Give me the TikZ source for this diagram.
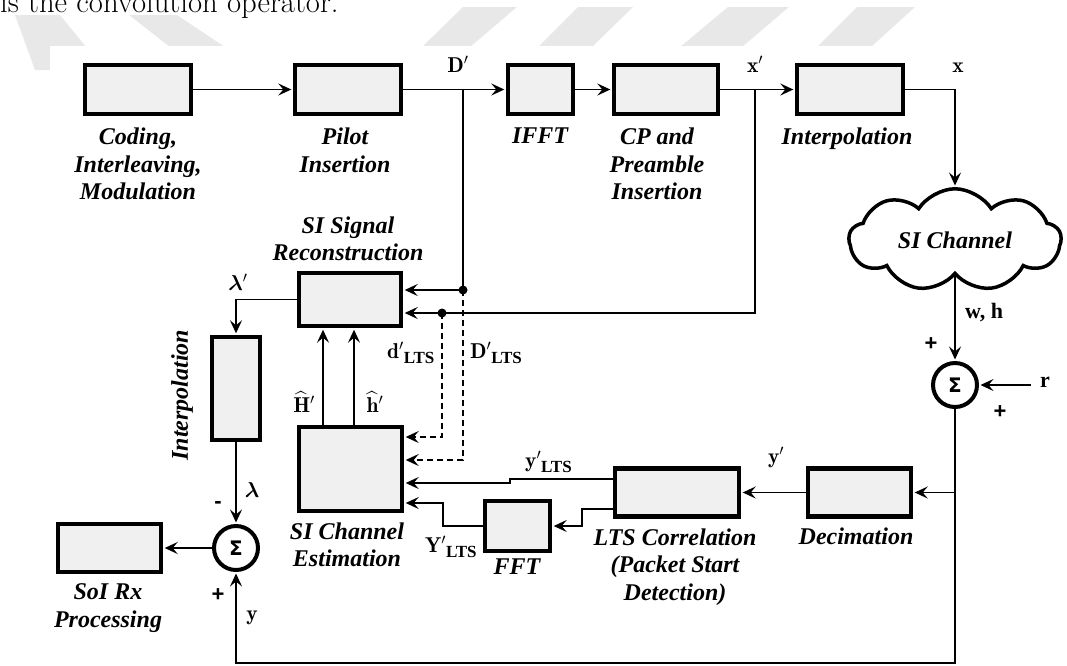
\RequirePackage{fix-cm}
\documentclass[tikz,border=0pt]{standalone}
\usepackage{amsmath}
\usepackage{bm}
\usepackage{fontspec}
\newfontfamily\tnr{Liberation Serif}
\newfontfamily\dvs{DejaVu Sans}
\newfontfamily\lsans{Liberation Sans}
\usetikzlibrary{arrows.meta,shapes.symbols}
\definecolor{boxgray}{HTML}{F0F0F0}
\definecolor{wm}{HTML}{E8E8E8}
\newcommand{\ltsub}{\raisebox{-5pt}{\fontsize{17}{17}\selectfont\tnr\bfseries LTS}}
\tikzset{
  blk/.style={draw, line width=4.4pt, fill=boxgray, inner sep=0pt},
  lbl/.style={font=\tnr\bfseries\itshape\fontsize{24}{27.5}\selectfont, align=center, inner sep=0pt, anchor=north},
  mlab/.style={font=\fontsize{21.5}{24}\selectfont, inner sep=0pt, anchor=base},
  sgn/.style={font=\lsans\bfseries\fontsize{22}{22}\selectfont, inner sep=0pt},
  sumc/.style={draw, circle, line width=4pt, fill=white, minimum size=44pt, inner sep=0pt, font=\dvs\bfseries\fontsize{20}{20}\selectfont},
  wire/.style={line width=1.6pt},
  conn/.style={line width=1.6pt, -{Stealth[length=13pt,width=12pt,inset=5pt]}, shorten >=1.5pt},
  dconn/.style={conn, dash pattern=on 6pt off 4pt},
  jdot/.style={fill, circle, inner sep=0pt, minimum size=9pt}
}
\begin{document}
\begin{tikzpicture}[x=1pt,y=-1pt]
\useasboundingbox (0,0) rectangle (1067,665);
\clip (0,0) rectangle (1067,665);
% background watermark bands
\fill[wm] (15,15) -- (60,15) -- (105,70) -- (35,70) -- cycle;
\fill[wm] (129,15) -- (177,15) -- (225,47) -- (170,47) -- cycle;
\fill[wm] (463,7) -- (517,7) -- (470,47) -- (422,47) -- cycle;
\fill[wm] (578,7) -- (633,7) -- (592,47) -- (538,47) -- cycle;
\fill[wm] (728,7) -- (789,7) -- (742,47) -- (680,47) -- cycle;
\fill[wm] (857,7) -- (915,7) -- (871,47) -- (817,47) -- cycle;
\fill[white] (50,46) rectangle (1067,665);
\node[anchor=base west, inner sep=0pt, font=\fontsize{30.7}{36}\selectfont] (cap) at (0,12) {is the convolution operator.};

% top row
\node[blk, minimum width=106pt, minimum height=49pt] (b1) at (138,89.5) {};
\node[blk, minimum width=106pt, minimum height=49pt] (b2) at (348,89.5) {};
\node[blk, minimum width=65pt, minimum height=49pt] (b3) at (540.5,89.5) {};
\node[blk, minimum width=104pt, minimum height=49pt] (b4) at (666,89.5) {};
\node[blk, minimum width=106pt, minimum height=49pt] (b5) at (850,89.5) {};
\node[lbl] (t1) at (138,128) {Coding,\\Interleaving,\\Modulation};
\node[lbl] (t2) at (345,128) {Pilot\\Insertion};
\node[lbl] (t3) at (540,128) {IFFT};
\node[lbl] (t4) at (657,128) {CP and\\Preamble\\Insertion};
\node[lbl] (t5) at (847,128) {Interpolation};

% middle blocks
\node[blk, minimum width=102pt, minimum height=53pt] (rec) at (350,299.5) {};
\node[lbl] (trec) at (348,216.5) {SI Signal\\Reconstruction};
\node[blk, minimum width=103pt, minimum height=84pt] (est) at (350.5,469) {};
\node[lbl] (test) at (347,522.5) {SI Channel\\Estimation};
\node[blk, minimum width=48pt, minimum height=103pt] (vint) at (236,388.5) {};
\node[lbl, rotate=90, anchor=center] (tvint) at (182,395) {Interpolation};
\node[blk, minimum width=103pt, minimum height=48pt] (soi) at (109.5,548) {};
\node[lbl] (tsoi) at (108,583.5) {SoI Rx\\Processing};
\node[blk, minimum width=65pt, minimum height=50pt] (fft) at (517.5,526) {};
\node[lbl] (tfft) at (517,559) {FFT};
\node[blk, minimum width=124pt, minimum height=48pt] (lts) at (677,492.5) {};
\node[lbl] (tlts) at (675,528.5) {LTS Correlation\\(Packet Start\\Detection)};
\node[blk, minimum width=103pt, minimum height=48pt] (dec) at (859.5,492.5) {};
\node[lbl] (tdec) at (856,527.5) {Decimation};

% channel and sums
\node[cloud, draw, line width=3.5pt, cloud puffs=9, cloud puff arc=115, aspect=2.1,
      minimum width=212pt, minimum height=100pt, inner sep=0pt,
      font=\tnr\bfseries\itshape\fontsize{24}{27.5}\selectfont] (ch) at (955,240) {SI Channel};
\node[sumc] (s1) at (955,385) {Σ};
\node[sumc] (s2) at (236,548) {Σ};

% junctions
\coordinate (jD) at (463,89.5);
\coordinate (jX) at (755,89.5);
\node[jdot] (dD) at (463,290) {};
\node[jdot] (dX) at (442,313) {};
\coordinate (ey1) at (0,437);
\coordinate (ey2) at (0,460);
\coordinate (ry2) at (0,313);
\coordinate (ha) at (323,0);
\coordinate (hb) at (354,0);
\coordinate (k1) at (510,479);
\coordinate (k2) at (510,483);
\coordinate (k3) at (582,509);
\coordinate (k4) at (443,503);
\coordinate (rin) at (1031,385);
\coordinate (bot) at (0,663);

% connections
\draw[conn] (b1) -- (b2);
\draw[conn] (b2) -- (b3);
\draw[conn] (b3) -- (b4);
\draw[conn] (b4) -- (b5);
\draw[conn] (b5.east) -| (ch.north);
\draw[wire] (jD) -- (dD.center);
\draw[conn] (dD.center) -- (rec.east |- dD);
\draw[conn] (jX) |- (rec.east |- ry2);
\draw[dconn] (dD.center) |- (est.east |- ey2);
\draw[dconn] (dX.center) |- (est.east |- ey1);
\draw[conn] (est.north -| ha) -- (rec.south -| ha);
\draw[conn] (est.north -| hb) -- (rec.south -| hb);
\draw[conn] (rec.west) -| (vint.north);
\draw[conn] (vint.south) -- (s2.north);
\draw[conn] (s2) -- (soi);
\draw[conn] (ch.south) -- (s1.north);
\draw[conn] (rin) -- (s1.east);
\draw[conn] (s1.south) -- (s1 |- bot) -| (s2.south);
\draw[conn] (s1 |- dec.east) -- (dec.east);
\draw[conn] (dec.west) -- (lts.east);
\draw[conn] (lts.west |- k1) -- (k1) -- (k2) -- (est.east |- k2);
\draw[conn] (lts.west |- k3) -- (k3) |- (fft.east);
\draw[conn] (fft.west) -| (k4) -- (est.east |- k4);

% labels
\node[mlab] (lD) at (458,72) {$\mathbf{D}'$};
\node[mlab] (lxp) at (755,72) {$\mathbf{x}'$};
\node[mlab] (lx) at (958,72) {$\mathbf{x}$};
\node[mlab] (llp) at (238,290) {$\bm{\lambda}'$};
\node[mlab] (ll) at (252,497) {$\bm{\lambda}$};
\node[mlab] (ly) at (252,620) {$\mathbf{y}$};
\node[mlab] (lH) at (304,412) {$\widehat{\mathbf{H}}'$};
\node[mlab] (lh) at (375,412) {$\widehat{\mathbf{h}}'$};
\node[mlab, anchor=base west] (ld) at (387,358) {$\mathbf{d}'$\ltsub};
\node[mlab, anchor=base west] (lDl) at (470,358) {$\mathbf{D}'$\ltsub};
\node[mlab, anchor=base west] (lyl) at (525,467) {$\mathbf{y}'$\ltsub};
\node[mlab, anchor=base west] (lYl) at (425,552) {$\mathbf{Y}'$\ltsub};
\node[mlab] (lyp) at (776,463) {$\mathbf{y}'$};
\node[mlab, anchor=base west, font=\tnr\bfseries\fontsize{22}{24}\selectfont] (lwh) at (965,318) {w, h};
\node[mlab, anchor=base west, font=\tnr\bfseries\fontsize{22}{24}\selectfont] (lr) at (1040,387) {r};
\node[sgn] (p1) at (931,344) {+};
\node[sgn] (p2) at (1000,412) {+};
\node[sgn] (p3) at (218,595) {+};
\node[sgn] (m1) at (218,505) {-};
\end{tikzpicture}
\end{document}
